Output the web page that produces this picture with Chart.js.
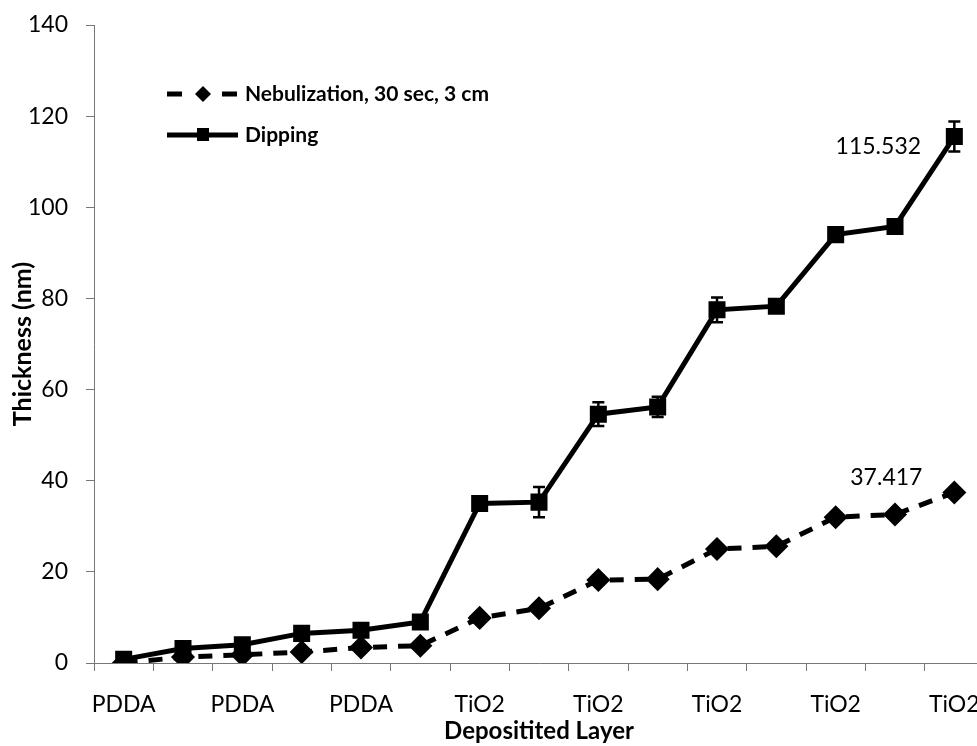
<!DOCTYPE html>
<html>
<head>
<meta charset="utf-8">
<script src="https://cdn.jsdelivr.net/npm/chart.js@4/dist/chart.umd.min.js"></script>
<style>
  html, body { margin: 0; padding: 0; background: #fff; overflow: hidden; }
  #wrap { width: 1000px; height: 746px; }
</style>
</head>
<body>
<div id="wrap"><canvas id="chart" width="1000" height="746"></canvas></div>
<script>
// layers (only every other one is labelled on the axis)
const layers = ["PDDA", "", "PDDA", "", "PDDA", "", "TiO2", "", "TiO2", "", "TiO2", "", "TiO2", "", "TiO2"];
const nebulization = [0, 1.3, 1.8, 2.4, 3.4, 3.8, 9.9, 12.0, 18.2, 18.4, 25.0, 25.6, 32.0, 32.6, 37.417];
const dipping = [0.8, 3.2, 4.0, 6.5, 7.2, 9.0, 35.0, 35.3, 54.6, 56.2, 77.5, 78.3, 94.0, 95.8, 115.532];
const dippingErr = [0.3, 0.4, 0.4, 0.5, 0.5, 0.6, 1.0, 3.3, 2.6, 2.2, 2.7, 1.0, 1.0, 1.2, 3.3];
const yTicks = [0, 20, 40, 60, 80, 100, 120, 140];

const FONT = "Lato, 'Open Sans', sans-serif";

const errorBars = {
  id: "errorBars",
  afterDatasetsDraw(chart) {
    const ctx = chart.ctx;
    const meta = chart.getDatasetMeta(1);
    const y = chart.scales.y;
    ctx.save();
    ctx.strokeStyle = "#000";
    ctx.lineWidth = 2.5;
    meta.data.forEach((pt, i) => {
      const top = y.getPixelForValue(dipping[i] + dippingErr[i]);
      const bot = y.getPixelForValue(dipping[i] - dippingErr[i]);
      ctx.beginPath();
      ctx.moveTo(pt.x, top); ctx.lineTo(pt.x, bot);
      ctx.moveTo(pt.x - 6, top); ctx.lineTo(pt.x + 6, top);
      ctx.moveTo(pt.x - 6, bot); ctx.lineTo(pt.x + 6, bot);
      ctx.stroke();
    });
    ctx.restore();
  }
};

const endLabels = {
  id: "endLabels",
  afterDatasetsDraw(chart) {
    const ctx = chart.ctx;
    ctx.save();
    ctx.font = "23px " + FONT;
    ctx.fillStyle = "#000";
    ctx.textAlign = "center";
    ctx.textBaseline = "middle";
    const last = layers.length - 1;
    const pd = chart.getDatasetMeta(1).data[last];
    ctx.fillText(dipping[last].toFixed(3), pd.x - 76, pd.y + 10);
    const pn = chart.getDatasetMeta(0).data[last];
    ctx.fillText(nebulization[last].toFixed(3), pn.x - 68, pn.y - 15);
    ctx.restore();
  }
};

const insideLegend = {
  id: "insideLegend",
  afterDraw(chart) {
    const ctx = chart.ctx;
    ctx.save();
    ctx.font = "bold 21px 'Liberation Sans Narrow', " + FONT;
    ctx.textBaseline = "middle";
    chart.data.datasets.forEach((ds, i) => {
      const yy = 94 + i * 41;
      ctx.strokeStyle = "#000";
      ctx.lineWidth = 5;
      ctx.beginPath();
      if (ds.borderDash) {
        ctx.moveTo(167, yy); ctx.lineTo(182, yy);
        ctx.moveTo(222, yy); ctx.lineTo(237, yy);
      } else {
        ctx.moveTo(167, yy); ctx.lineTo(238, yy);
      }
      ctx.stroke();
      ctx.fillStyle = "#000";
      if (ds.pointStyle === "rectRot") {
        ctx.beginPath();
        ctx.moveTo(203, yy - 8); ctx.lineTo(211, yy); ctx.lineTo(203, yy + 8); ctx.lineTo(195, yy);
        ctx.closePath(); ctx.fill();
      } else {
        ctx.fillRect(197, yy - 7, 12, 13);
      }
      ctx.fillText(ds.label, 245, yy);
    });
    ctx.restore();
  }
};

new Chart(document.getElementById("chart"), {
  type: "line",
  data: {
    labels: layers,
    datasets: [
      {
        label: "Nebulization, 30 sec, 3 cm",
        data: nebulization,
        borderColor: "#000",
        backgroundColor: "#000",
        borderWidth: 5,
        borderDash: [14, 11],
        pointStyle: "rectRot",
        pointRadius: 8.5,
        tension: 0,
      },
      {
        label: "Dipping",
        data: dipping,
        borderColor: "#000",
        backgroundColor: "#000",
        borderWidth: 5,
        pointStyle: "rect",
        pointRadius: 8.5,
        tension: 0,
      },
    ],
  },
  options: {
    responsive: false,
    animation: false,
    layout: { padding: { top: 25, right: 16, left: 0, bottom: 0 } },
    plugins: {
      legend: { display: false },
      tooltip: { enabled: false },
    },
    scales: {
      x: {
        offset: true,
        afterFit: (s) => { s.height = 83; s.paddingLeft = 0; s.paddingRight = 0; },
        border: { color: "#777", width: 1 },
        grid: { display: true, drawOnChartArea: false, offset: true, tickLength: 8, color: "#777" },
        ticks: {
          autoSkip: false,
          maxRotation: 0,
          color: "#000",
          font: { family: FONT, size: 23 },
          padding: 20,
        },
        title: {
          display: true,
          text: "Depositited Layer",
          color: "#000",
          font: { family: FONT, size: 24, weight: "bold" },
          padding: { top: 0, bottom: 0 },
        },
      },
      y: {
        min: 0,
        max: 140,
        afterFit: (s) => { s.width = 94; s.paddingTop = 0; s.paddingBottom = 0; },
        afterBuildTicks: (s) => { s.ticks = yTicks.map((v) => ({ value: v })); },
        border: { color: "#777", width: 1 },
        grid: { display: true, drawOnChartArea: false, tickLength: 8, color: "#777" },
        ticks: {
          color: "#000",
          font: { family: FONT, size: 23 },
          padding: 18,
        },
        title: {
          display: true,
          text: "Thickness (nm)",
          color: "#000",
          font: { family: FONT, size: 25, weight: "bold" },
          padding: { top: 8, bottom: 0 },
        },
      },
    },
  },
  plugins: [errorBars, endLabels, insideLegend],
});
</script>
</body>
</html>
